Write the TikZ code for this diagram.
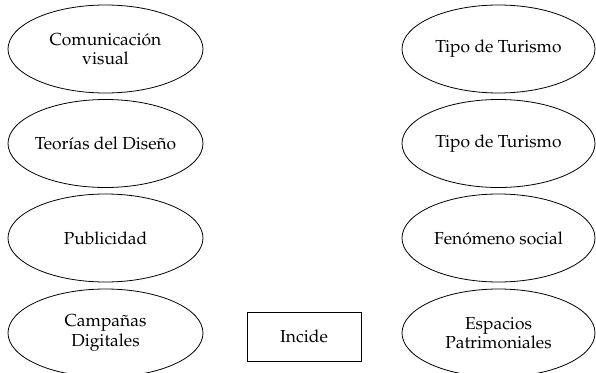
\documentclass[tikz,border=0pt]{standalone}
\IfFileExists{mathpazo.sty}{\usepackage[T1]{fontenc}\usepackage{mathpazo}\newcommand{\fsz}{17.4}}{\usepackage{fontspec}\setmainfont{Liberation Serif}\newcommand{\fsz}{18.4}}
\usetikzlibrary{shapes.geometric}
\tikzset{
  oval/.style={draw, ellipse, line width=0.8pt, minimum width=195pt, minimum height=88pt, inner xsep=-25pt, inner ysep=0pt, align=center, font=\fontsize{\fsz}{19.5}\selectfont},
  boxnode/.style={draw, rectangle, line width=0.8pt, minimum width=114pt, minimum height=49pt, inner sep=0pt, align=center, font=\fontsize{\fsz}{19.5}\selectfont}
}
\begin{document}
\begin{tikzpicture}[x=1pt,y=-1pt]
\useasboundingbox (0,0) rectangle (596,372);
\node[oval] (cv) at (105.5,49) {Comunicación\\visual};
\node[oval] (td) at (105.5,143.5) {Teorías del Diseño};
\node[oval] (pu) at (105.5,238) {Publicidad};
\node[oval] (cd) at (105.5,333) {Campañas\\Digitales};
\node[oval, minimum width=193pt] (t1) at (498.5,49) {Tipo de Turismo};
\node[oval, minimum width=193pt] (t2) at (498.5,143.5) {Tipo de Turismo};
\node[oval, minimum width=193pt] (fs) at (498.5,238) {Fenómeno social};
\node[oval, minimum width=193pt] (ep) at (498.5,333) {Espacios\\Patrimoniales};
\node[boxnode] (in) at (304,336.5) {Incide};
\end{tikzpicture}
\end{document}
